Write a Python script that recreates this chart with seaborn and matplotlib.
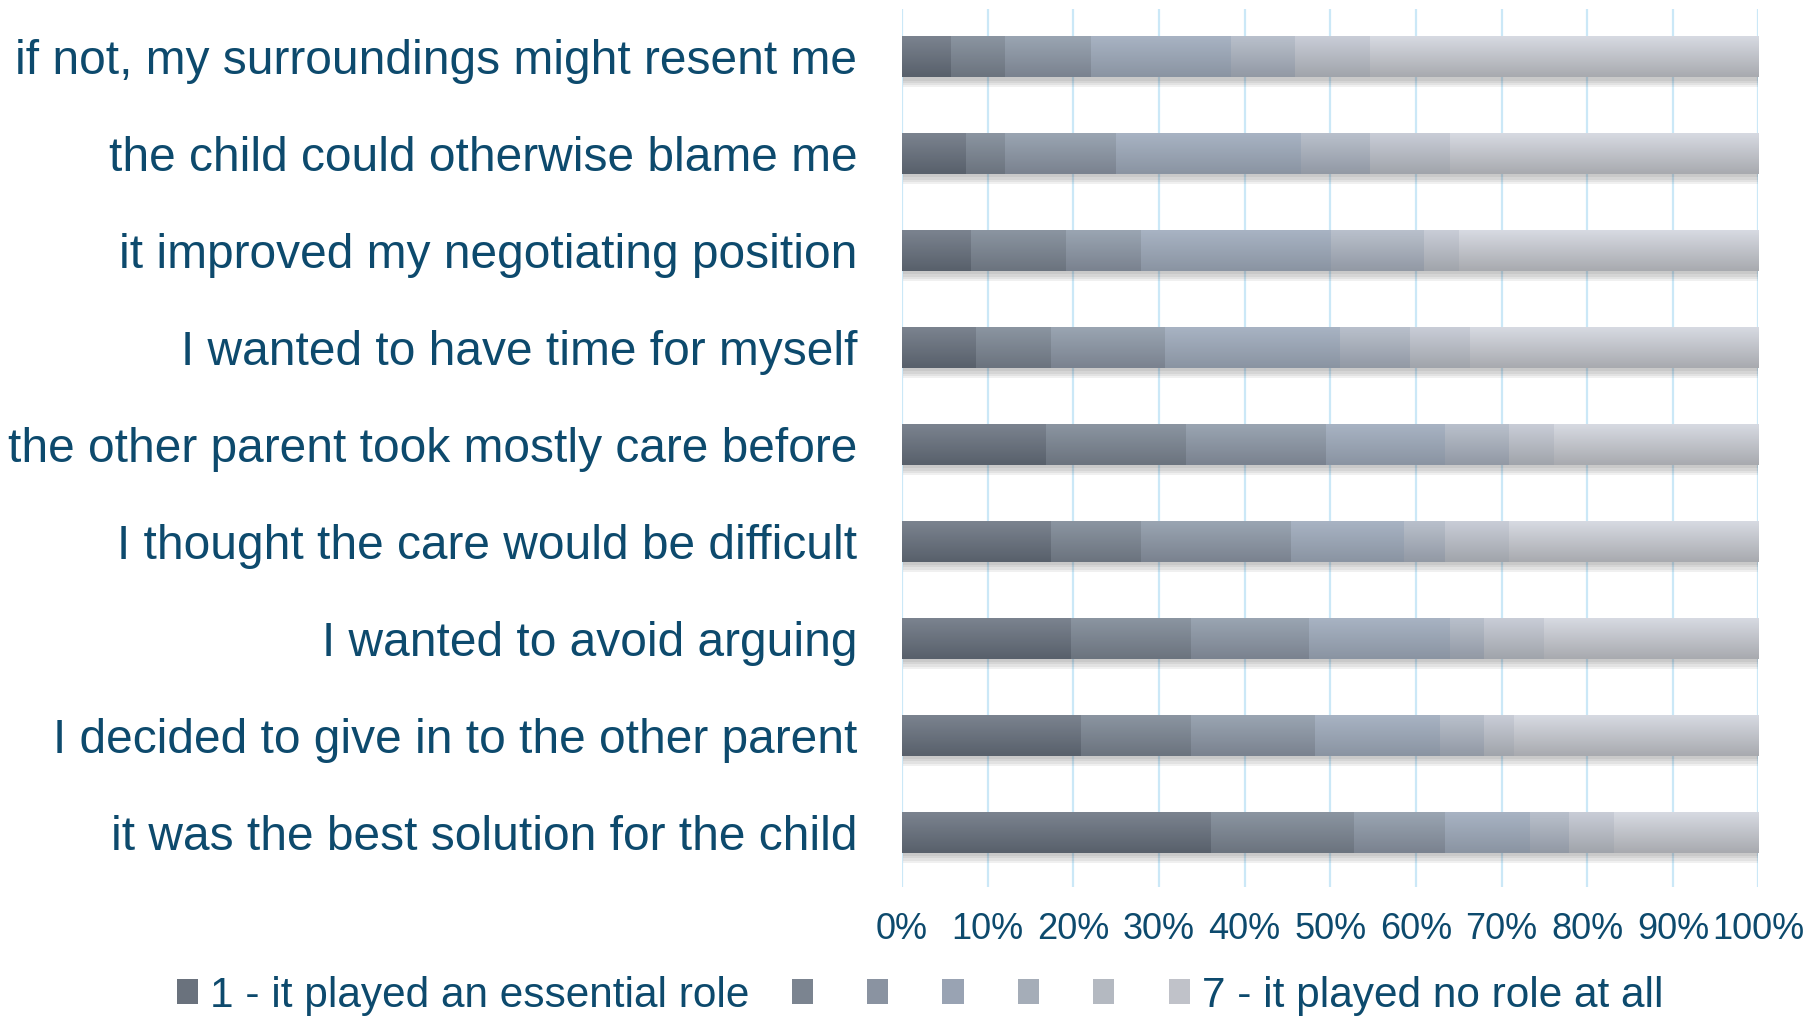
import numpy as np
import pandas as pd
import matplotlib
matplotlib.use("Agg")
import matplotlib.pyplot as plt
import matplotlib.patheffects as pe
from matplotlib.patches import Patch
from matplotlib.colors import to_rgb
from matplotlib.ticker import PercentFormatter
import seaborn as sns

reasons = [
    "if not, my surroundings might resent me",
    "the child could otherwise blame me",
    "it improved my negotiating position",
    "I wanted to have time for myself",
    "the other parent took mostly care before",
    "I thought the care would be difficult",
    "I wanted to avoid arguing",
    "I decided to give in to the other parent",
    "it was the best solution for the child",
]
levels = ["1 - it played an essential role", "2", "3", "4", "5", "6", "7 - it played no role at all"]
legend_labels = ["1 - it played an essential role", "", "", "", "", "", "7 - it played no role at all"]

level1 = [5.7, 7.4, 8.0, 8.6, 16.7, 17.3, 19.7, 20.8, 36.0]
level2 = [6.3, 4.6, 11.1, 8.7, 16.4, 10.5, 14.0, 12.9, 16.7]
level3 = [10.0, 12.9, 8.7, 13.4, 16.3, 17.5, 13.8, 14.5, 10.6]
level4 = [16.3, 21.6, 22.2, 20.4, 13.9, 13.3, 16.4, 14.5, 9.9]
level5 = [7.5, 8.1, 10.9, 8.1, 7.5, 4.7, 4.0, 5.2, 4.6]
level6 = [8.8, 9.3, 4.1, 7.0, 5.3, 7.5, 7.0, 3.5, 5.3]
level7 = [45.4, 36.1, 35.0, 33.8, 23.9, 29.2, 25.1, 28.6, 16.9]

series = [level1, level2, level3, level4, level5, level6, level7]

# gradient colours (top, bottom) per level
grad_top = ["#7b838f", "#8b95a1", "#9aa5b2", "#a8b3c3", "#b9c0cc", "#c9cdd7", "#d7dae2"]
grad_bot = ["#58606b", "#6b737e", "#7a828f", "#8a94a2", "#9299a4", "#a0a4ab", "#a8aaaf"]

text_color = "#0d4a6d"
grid_color = "#cbe8f7"

df = pd.DataFrame({"reason": reasons})
for lev, vals in zip(levels, series):
    df[lev] = vals
cum = df[levels].cumsum(axis=1)

sns.set_theme(style="white")
plt.rcParams["font.family"] = ["Liberation Sans", "DejaVu Sans"]

fig = plt.figure(figsize=(18.11, 10.17), dpi=100)
ax = fig.add_axes([0.498, 0.128, 0.473, 0.863])

bar_w = 0.42
layer_patches = []
for k in range(len(levels) - 1, -1, -1):
    d = pd.DataFrame({"reason": reasons, "value": cum[levels[k]].values})
    n_before = len(ax.patches)
    mid = tuple((np.array(to_rgb(grad_top[k])) + np.array(to_rgb(grad_bot[k]))) / 2)
    sns.barplot(data=d, x="value", y="reason", orient="h", color=mid, saturation=1,
                width=bar_w, errorbar=None, ax=ax, linewidth=0)
    layer_patches.append((k, ax.patches[n_before:]))

shadow = [pe.SimplePatchShadow(offset=(1, -o), alpha=0.07, shadow_rgbFace="#333333") for o in (7, 5.5, 4, 2.5)]

# gradient overlay + shadow
for order, (k, patches) in enumerate(layer_patches):
    top = np.array(to_rgb(grad_top[k]))
    bot = np.array(to_rgb(grad_bot[k]))
    t = np.linspace(0, 1, 64)[:, None, None]
    img = top[None, None, :] * (1 - t) + bot[None, None, :] * t
    for p in patches:
        z = 2 + order * 0.1
        p.set_zorder(z)
        if order == 0:
            p.set_path_effects(shadow + [pe.Normal()])
        x0 = p.get_x()
        x1 = x0 + p.get_width()
        y0 = p.get_y()
        y1 = y0 + p.get_height()
        im = ax.imshow(img, extent=(x0, x1, y1, y0), origin="upper", aspect="auto",
                       interpolation="bilinear", zorder=z + 0.05)
        im.set_clip_path(p)

ax.set_xlim(0, 100)
ax.set_ylim(8.56, -0.49)
ax.set_xticks(np.arange(0, 101, 10))
ax.xaxis.set_major_formatter(PercentFormatter(decimals=0))
ax.grid(axis="x", color=grid_color, linewidth=1.6)
ax.grid(axis="y", visible=False)
ax.set_axisbelow(True)
for s in ax.spines.values():
    s.set_visible(False)
ax.set_xlabel("")
ax.set_ylabel("")
ax.tick_params(axis="x", length=0, pad=18, labelsize=26, labelcolor=text_color)
ax.tick_params(axis="y", length=0, pad=32, labelsize=34.5, labelcolor=text_color)

handles = [Patch(facecolor=tuple((np.array(to_rgb(grad_top[k])) + np.array(to_rgb(grad_bot[k]))) / 2),
                 edgecolor="none") for k in range(len(levels))]
leg = fig.legend(handles, legend_labels, loc="center", bbox_to_anchor=(0.508, 0.021), ncol=7,
                 frameon=False, fontsize=30.5, handlelength=0.5, handleheight=0.55,
                 handletextpad=0.28, columnspacing=1.0, borderpad=0, borderaxespad=0)
for txt in leg.get_texts():
    txt.set_color(text_color)

fig.savefig("out.png", dpi=100)
